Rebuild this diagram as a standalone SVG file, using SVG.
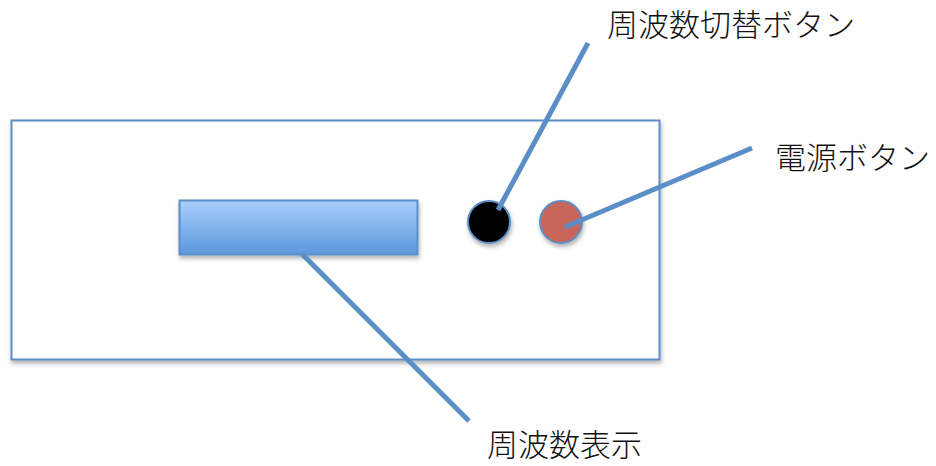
<svg xmlns="http://www.w3.org/2000/svg" width="936" height="466" viewBox="0 0 936 466">
<defs>
<linearGradient id="g" x1="0" y1="0" x2="0" y2="1"><stop offset="0" stop-color="#a9cdfb"/><stop offset="1" stop-color="#5a98dc"/></linearGradient>
<filter id="sh" x="-10%" y="-10%" width="130%" height="140%"><feDropShadow dx="1" dy="3" stdDeviation="2" flood-color="#000" flood-opacity="0.3"/></filter>
<style>
.lbl{font-family:"Noto Sans CJK JP","Noto Sans",sans-serif;font-size:31px;fill:#111;font-weight:300}
.ln{stroke:#5b8ec6;stroke-width:5;fill:none}
</style>
</defs>
<g id="panel"><rect x="11.5" y="120.5" width="648" height="239" fill="#fff" stroke="#5b8ec6" stroke-width="2" filter="url(#sh)"/></g>
<g id="display"><rect x="179.5" y="200.5" width="238" height="54" fill="url(#g)" stroke="#5b8ec6" stroke-width="2" filter="url(#sh)"/></g>
<g id="freqButton"><circle cx="489" cy="222" r="21" fill="#000" stroke="#5b8ec6" stroke-width="2" filter="url(#sh)"/></g>
<g id="powerButton"><circle cx="561" cy="222" r="21" fill="#c8665c" stroke="#5b8ec6" stroke-width="2" filter="url(#sh)"/></g>
<g id="connectors">
<line class="ln" x1="588" y1="43" x2="498" y2="210"/>
<line class="ln" x1="752" y1="148" x2="565" y2="227"/>
<line class="ln" x1="302" y1="254" x2="469" y2="421"/>
</g>
<g id="labels">
<text class="lbl" x="607" y="36">周波数切替ボタン</text>
<text class="lbl" x="775" y="169">電源ボタン</text>
<text class="lbl" x="487" y="456">周波数表示</text>
</g>
</svg>
